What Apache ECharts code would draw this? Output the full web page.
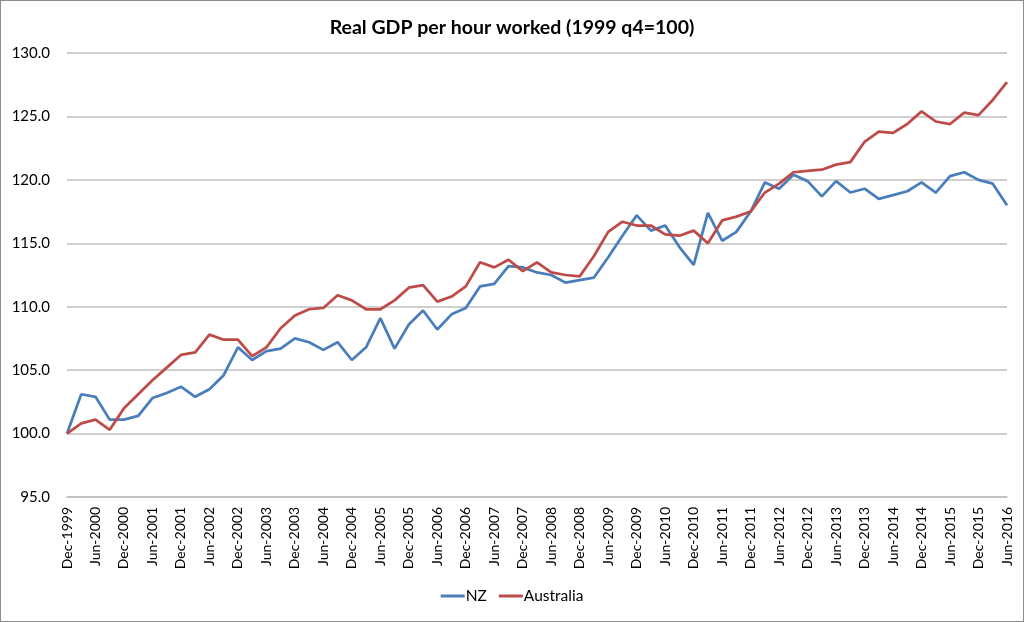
<!DOCTYPE html>
<html>
<head>
<meta charset="utf-8">
<script src="https://cdn.jsdelivr.net/npm/echarts@6/dist/echarts.min.js"></script>
<style>
  html, body { margin: 0; padding: 0; background: #fff; }
  #chart { width: 1024px; height: 622px; box-sizing: border-box; border: 1px solid #8c8c8c; }
</style>
</head>
<body>
<div id="chart"></div>
<script>
const categories = (function () {
  const out = [];
  const months = ['Mar', 'Jun', 'Sep', 'Dec'];
  out.push('Dec-1999');
  for (let y = 2000; y <= 2016; y++) {
    for (let q = 0; q < 4; q++) {
      if (y === 2016 && q > 1) break;
      out.push(months[q] + '-' + y);
    }
  }
  return out;
})();

const nzValues = [
  100.0, 103.1, 102.9, 101.1, 101.1, 101.4, 102.8, 103.2, 103.7, 102.9,
  103.5, 104.6, 106.8, 105.8, 106.5, 106.7, 107.5, 107.2, 106.6, 107.2,
  105.8, 106.8, 109.1, 106.7, 108.6, 109.7, 108.2, 109.4, 109.9, 111.6,
  111.8, 113.2, 113.1, 112.7, 112.5, 111.9, 112.1, 112.3, 113.9, 115.6,
  117.2, 116.0, 116.4, 114.7, 113.3, 117.4, 115.2, 115.9, 117.5, 119.8,
  119.3, 120.4, 119.9, 118.7, 119.9, 119.0, 119.3, 118.5, 118.8, 119.1,
  119.8, 119.0, 120.3, 120.6, 120.0, 119.7, 118.0
];

const australiaValues = [
  100.0, 100.8, 101.1, 100.3, 102.0, 103.1, 104.2, 105.2, 106.2, 106.4,
  107.8, 107.4, 107.4, 106.1, 106.8, 108.3, 109.3, 109.8, 109.9, 110.9,
  110.5, 109.8, 109.8, 110.5, 111.5, 111.7, 110.4, 110.8, 111.6, 113.5,
  113.1, 113.7, 112.8, 113.5, 112.7, 112.5, 112.4, 114.0, 115.9, 116.7,
  116.4, 116.4, 115.7, 115.6, 116.0, 115.0, 116.8, 117.1, 117.5, 119.0,
  119.7, 120.6, 120.7, 120.8, 121.2, 121.4, 123.0, 123.8, 123.7, 124.4,
  125.4, 124.6, 124.4, 125.3, 125.1, 126.3, 127.7
];

const titleText = 'Real GDP per hour worked (1999 q4=100)';
const seriesNames = ['NZ', 'Australia'];

const chart = echarts.init(document.getElementById('chart'));
chart.setOption({
  animation: false,
  textStyle: { fontFamily: 'Lato, "Open Sans", sans-serif' },
  title: {
    text: titleText,
    left: 'center',
    top: 12,
    textStyle: { fontSize: 19.5, fontWeight: 'bold', color: '#000', fontFamily: 'Lato, sans-serif' }
  },
  grid: { left: 66, right: 16, top: 52, bottom: 124, containLabel: false },
  legend: {
    bottom: 12,
    left: 'center',
    icon: 'rect',
    itemWidth: 24,
    itemHeight: 3,
    itemGap: 12,
    textStyle: { fontSize: 15.5, color: '#000', padding: [0, 0, 0, -4] },
    data: seriesNames
  },
  xAxis: {
    type: 'category',
    data: categories,
    boundaryGap: false,
    axisLine: { lineStyle: { color: '#bfbfbf', width: 1.5 } },
    axisTick: { show: false },
    axisLabel: {
      interval: 1,
      rotate: 90,
      fontSize: 14,
      color: '#000',
      margin: 10
    },
    splitLine: { show: false }
  },
  yAxis: {
    type: 'value',
    min: 95,
    max: 130,
    interval: 5,
    axisLine: { show: false },
    axisTick: { show: false },
    axisLabel: {
      fontSize: 15,
      color: '#000',
      margin: 17,
      formatter: v => v.toFixed(1)
    },
    splitLine: { lineStyle: { color: '#bfbfbf', width: 1.5 } }
  },
  series: [
    {
      name: seriesNames[0],
      type: 'line',
      data: nzValues,
      symbol: 'none',
      lineStyle: { color: '#4a7ebb', width: 2.75 },
      itemStyle: { color: '#4a7ebb' }
    },
    {
      name: seriesNames[1],
      type: 'line',
      data: australiaValues,
      symbol: 'none',
      lineStyle: { color: '#be4b48', width: 2.75 },
      itemStyle: { color: '#be4b48' }
    }
  ]
});
</script>
</body>
</html>
